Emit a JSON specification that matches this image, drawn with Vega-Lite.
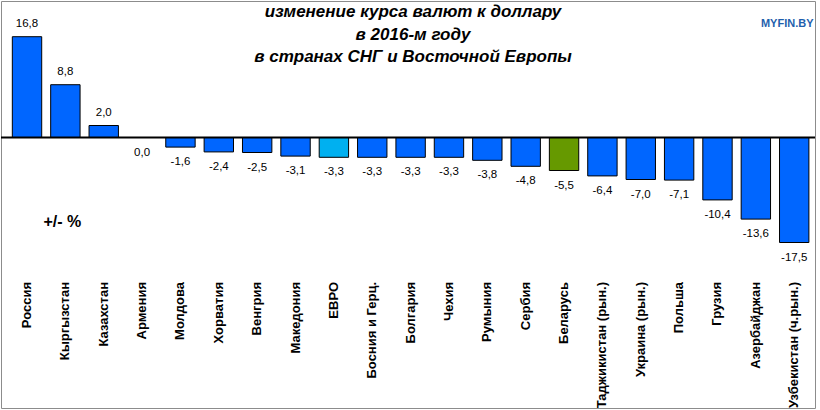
{
  "$schema": "https://vega.github.io/schema/vega-lite/v6.json",
  "width": 814,
  "height": 407,
  "autosize": {"type": "none"},
  "padding": {"left": 1, "top": 1, "right": 5, "bottom": 2},
  "background": "white",
  "title": {
    "text": ["изменение курса валют к доллару", "в 2016-м году", "в странах СНГ и Восточной Европы"],
    "font": "Liberation Sans",
    "fontSize": 17,
    "fontStyle": "italic",
    "fontWeight": "bold",
    "color": "#000000",
    "anchor": "middle",
    "baseline": "top",
    "lineHeight": 22.5,
    "offset": -65,
    "dx": 5
  },
  "config": {
    "locale": {"number": {"decimal": ",", "thousands": " ", "grouping": [3], "currency": ["", ""], "minus": "-"}},
    "view": {"stroke": "#8c8c8c", "strokeWidth": 1}
  },
  "data": {
    "values": [
      {"country": "Россия", "value": 16.8},
      {"country": "Кыргызстан", "value": 8.8},
      {"country": "Казахстан", "value": 2.0},
      {"country": "Армения", "value": 0.0},
      {"country": "Молдова", "value": -1.6},
      {"country": "Хорватия", "value": -2.4},
      {"country": "Венгрия", "value": -2.5},
      {"country": "Македония", "value": -3.1},
      {"country": "ЕВРО", "value": -3.3},
      {"country": "Босния и Герц.", "value": -3.3},
      {"country": "Болгария", "value": -3.3},
      {"country": "Чехия", "value": -3.3},
      {"country": "Румыния", "value": -3.8},
      {"country": "Сербия", "value": -4.8},
      {"country": "Беларусь", "value": -5.5},
      {"country": "Таджикистан (рын.)", "value": -6.4},
      {"country": "Украина (рын.)", "value": -7.0},
      {"country": "Польша", "value": -7.1},
      {"country": "Грузия", "value": -10.4},
      {"country": "Азербайджан", "value": -13.6},
      {"country": "Узбекистан (ч.рын.)", "value": -17.5}
    ]
  },
  "layer": [
    {
      "mark": {"type": "bar", "stroke": "#000000", "strokeWidth": 1},
      "encoding": {
        "x": {"field": "country", "type": "nominal", "sort": null, "axis": null,
              "scale": {"paddingInner": 0.234, "paddingOuter": 0.227, "align": 0.65}},
        "y": {"field": "value", "type": "quantitative", "axis": null,
              "scale": {"domain": [-45.08, 22.75], "nice": false, "zero": false}},
        "color": {
          "condition": [
            {"test": "datum.country === 'ЕВРО'", "value": "#00B0F0"},
            {"test": "datum.country === 'Беларусь'", "value": "#669900"}
          ],
          "value": "#0066FF"
        }
      }
    },
    {
      "data": {"values": [{}]},
      "mark": {"type": "rule", "color": "#000000", "strokeWidth": 2},
      "encoding": {"y": {"datum": 0}}
    },
    {
      "transform": [{"filter": "datum.value > 0"}],
      "mark": {"type": "text", "font": "Liberation Sans", "fontSize": 11.5, "baseline": "middle", "dy": -12.5, "color": "#000000"},
      "encoding": {
        "x": {"field": "country", "type": "nominal", "sort": null},
        "y": {"field": "value", "type": "quantitative"},
        "text": {"field": "value", "type": "quantitative", "format": ".1f"}
      }
    },
    {
      "transform": [{"filter": "datum.value <= 0"}],
      "mark": {"type": "text", "font": "Liberation Sans", "fontSize": 11.5, "baseline": "middle", "dy": 15, "color": "#000000"},
      "encoding": {
        "x": {"field": "country", "type": "nominal", "sort": null},
        "y": {"field": "value", "type": "quantitative"},
        "text": {"field": "value", "type": "quantitative", "format": ".1f"}
      }
    },
    {
      "mark": {"type": "text", "font": "Liberation Sans", "fontSize": 13, "fontWeight": "bold", "angle": 270, "align": "right", "baseline": "middle", "color": "#000000"},
      "encoding": {
        "x": {"field": "country", "type": "nominal", "sort": null},
        "y": {"datum": -24.08},
        "text": {"field": "country", "type": "nominal"}
      }
    },
    {
      "data": {"values": [{"t": "+/- %"}]},
      "mark": {"type": "text", "font": "Liberation Sans", "fontSize": 16, "fontWeight": "bold", "baseline": "middle", "dx": -3, "color": "#000000"},
      "encoding": {
        "x": {"datum": "Кыргызстан"},
        "y": {"datum": -14.08},
        "text": {"field": "t", "type": "nominal"}
      }
    },
    {
      "data": {"values": [{"t": "MYFIN.BY"}]},
      "mark": {"type": "text", "font": "Liberation Sans", "fontSize": 11, "fontWeight": "bold", "baseline": "middle", "dx": -7, "color": "#1F5FAD"},
      "encoding": {
        "x": {"datum": "Узбекистан (ч.рын.)"},
        "y": {"datum": 19},
        "text": {"field": "t", "type": "nominal"}
      }
    }
  ]
}
